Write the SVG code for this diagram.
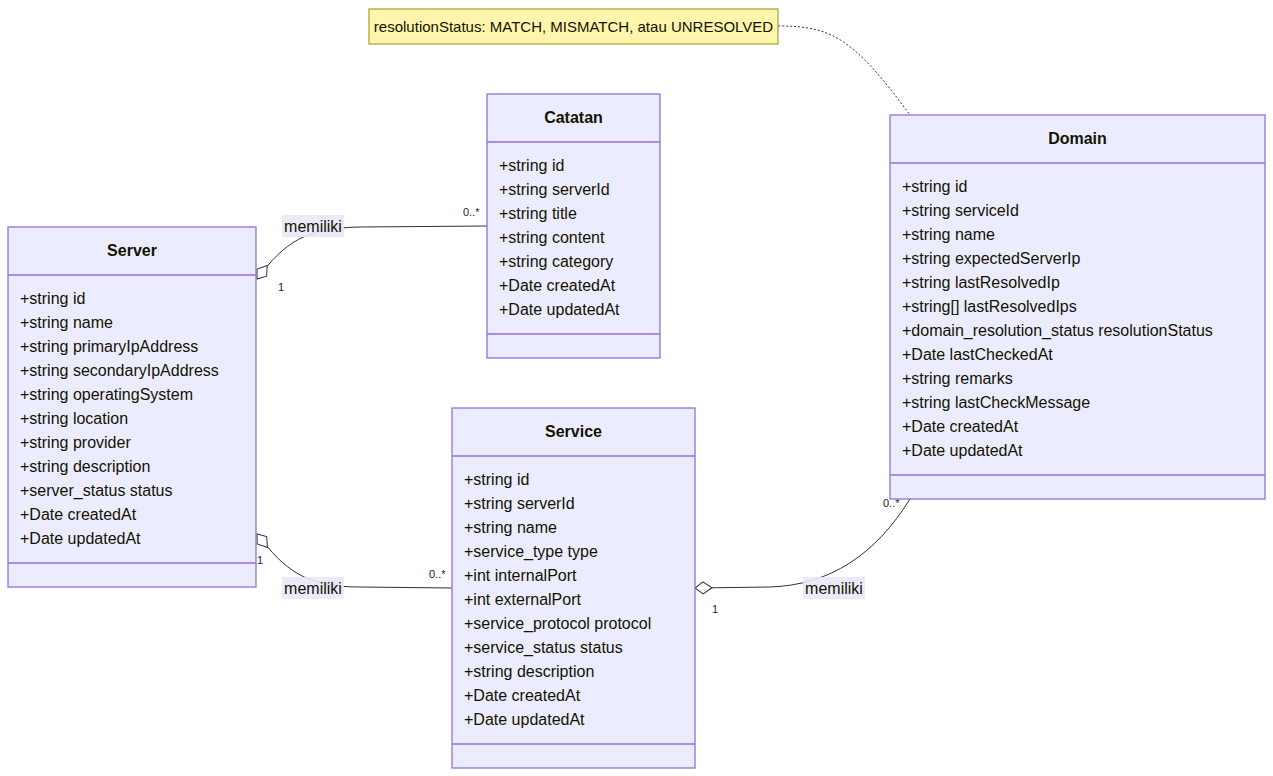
<svg xmlns="http://www.w3.org/2000/svg" width="1273" height="776" viewBox="0 0 1273 776">
<style>
text{font-family:"Liberation Sans",Arial,sans-serif;fill:#131300}
.box{fill:#ececff;stroke:#9370db;stroke-width:1.3}
.div{stroke:#9370db;stroke-width:1.3}
.title{font-size:16px;font-weight:bold;text-anchor:middle}
.attr{font-size:16px}
.card{font-size:11px;fill:#222}
.edge{fill:none;stroke:#333;stroke-width:1}
.lbg{fill:#e8e8f8;opacity:0.9}
.lbl{font-size:16px;text-anchor:middle}
.note{fill:#fff5ad;stroke:#aaaa33;stroke-width:1.3}
.ntxt{font-size:15px;text-anchor:middle}
</style>
<defs>
<marker id="agg" markerWidth="20" markerHeight="14" refX="1" refY="7" orient="auto" markerUnits="userSpaceOnUse">
<path d="M18,7 L9,13 L1,7 L9,1 Z" fill="#fff" stroke="#333" stroke-width="1"/>
</marker>
</defs>

<g id="connectors">
<path class="edge" d="M257,279 C285,242 305,228 360,227 L487,226" marker-start="url(#agg)"/>
<path class="edge" d="M257,534 C285,570 305,587 360,587 L452,588" marker-start="url(#agg)"/>
<path class="edge" d="M695,588 L770,587 C830,585 875,555 910,499" marker-start="url(#agg)"/>
<path class="edge" d="M778,26 C830,26 852,36 910,115" stroke-dasharray="2,2" stroke="#555"/>
<rect class="lbg" x="282" y="215" width="62" height="22"/>
<text class="lbl" x="313" y="231.5">memiliki</text>
<rect class="lbg" x="282" y="577" width="62" height="22"/>
<text class="lbl" x="313" y="593.5">memiliki</text>
<rect class="lbg" x="803" y="577" width="62" height="22"/>
<text class="lbl" x="834" y="593.5">memiliki</text>
<text class="card" x="463" y="216">0..*</text>
<text class="card" x="278" y="291">1</text>
<text class="card" x="429" y="578">0..*</text>
<text class="card" x="257" y="564">1</text>
<text class="card" x="712" y="613">1</text>
<text class="card" x="883" y="507">0..*</text>
</g>

<g id="note">
<rect class="note" x="369" y="9" width="409" height="35"/>
<text class="ntxt" x="573.5" y="31.5">resolutionStatus: MATCH, MISMATCH, atau UNRESOLVED</text>
</g>

<g id="Catatan">
<rect class="box" x="487" y="94" width="173" height="264"/>
<line class="div" x1="487" y1="142" x2="660" y2="142"/>
<line class="div" x1="487" y1="334" x2="660" y2="334"/>
<text class="title" x="573.5" y="123">Catatan</text>
<text class="attr" x="499" y="171">+string id</text>
<text class="attr" x="499" y="195">+string serverId</text>
<text class="attr" x="499" y="219">+string title</text>
<text class="attr" x="499" y="243">+string content</text>
<text class="attr" x="499" y="267">+string category</text>
<text class="attr" x="499" y="291">+Date createdAt</text>
<text class="attr" x="499" y="315">+Date updatedAt</text>
</g>

<g id="Server">
<rect class="box" x="8" y="227" width="248" height="360"/>
<line class="div" x1="8" y1="275" x2="256" y2="275"/>
<line class="div" x1="8" y1="563" x2="256" y2="563"/>
<text class="title" x="132" y="256">Server</text>
<text class="attr" x="20" y="304">+string id</text>
<text class="attr" x="20" y="328">+string name</text>
<text class="attr" x="20" y="352">+string primaryIpAddress</text>
<text class="attr" x="20" y="376">+string secondaryIpAddress</text>
<text class="attr" x="20" y="400">+string operatingSystem</text>
<text class="attr" x="20" y="424">+string location</text>
<text class="attr" x="20" y="448">+string provider</text>
<text class="attr" x="20" y="472">+string description</text>
<text class="attr" x="20" y="496">+server_status status</text>
<text class="attr" x="20" y="520">+Date createdAt</text>
<text class="attr" x="20" y="544">+Date updatedAt</text>
</g>

<g id="Service">
<rect class="box" x="452" y="408" width="243" height="360"/>
<line class="div" x1="452" y1="456" x2="695" y2="456"/>
<line class="div" x1="452" y1="744" x2="695" y2="744"/>
<text class="title" x="573.5" y="437">Service</text>
<text class="attr" x="464" y="485">+string id</text>
<text class="attr" x="464" y="509">+string serverId</text>
<text class="attr" x="464" y="533">+string name</text>
<text class="attr" x="464" y="557">+service_type type</text>
<text class="attr" x="464" y="581">+int internalPort</text>
<text class="attr" x="464" y="605">+int externalPort</text>
<text class="attr" x="464" y="629">+service_protocol protocol</text>
<text class="attr" x="464" y="653">+service_status status</text>
<text class="attr" x="464" y="677">+string description</text>
<text class="attr" x="464" y="701">+Date createdAt</text>
<text class="attr" x="464" y="725">+Date updatedAt</text>
</g>

<g id="Domain">
<rect class="box" x="890" y="115" width="375" height="384"/>
<line class="div" x1="890" y1="163" x2="1265" y2="163"/>
<line class="div" x1="890" y1="475" x2="1265" y2="475"/>
<text class="title" x="1077.5" y="144">Domain</text>
<text class="attr" x="902" y="192">+string id</text>
<text class="attr" x="902" y="216">+string serviceId</text>
<text class="attr" x="902" y="240">+string name</text>
<text class="attr" x="902" y="264">+string expectedServerIp</text>
<text class="attr" x="902" y="288">+string lastResolvedIp</text>
<text class="attr" x="902" y="312">+string[] lastResolvedIps</text>
<text class="attr" x="902" y="336">+domain_resolution_status resolutionStatus</text>
<text class="attr" x="902" y="360">+Date lastCheckedAt</text>
<text class="attr" x="902" y="384">+string remarks</text>
<text class="attr" x="902" y="408">+string lastCheckMessage</text>
<text class="attr" x="902" y="432">+Date createdAt</text>
<text class="attr" x="902" y="456">+Date updatedAt</text>
</g>
</svg>
